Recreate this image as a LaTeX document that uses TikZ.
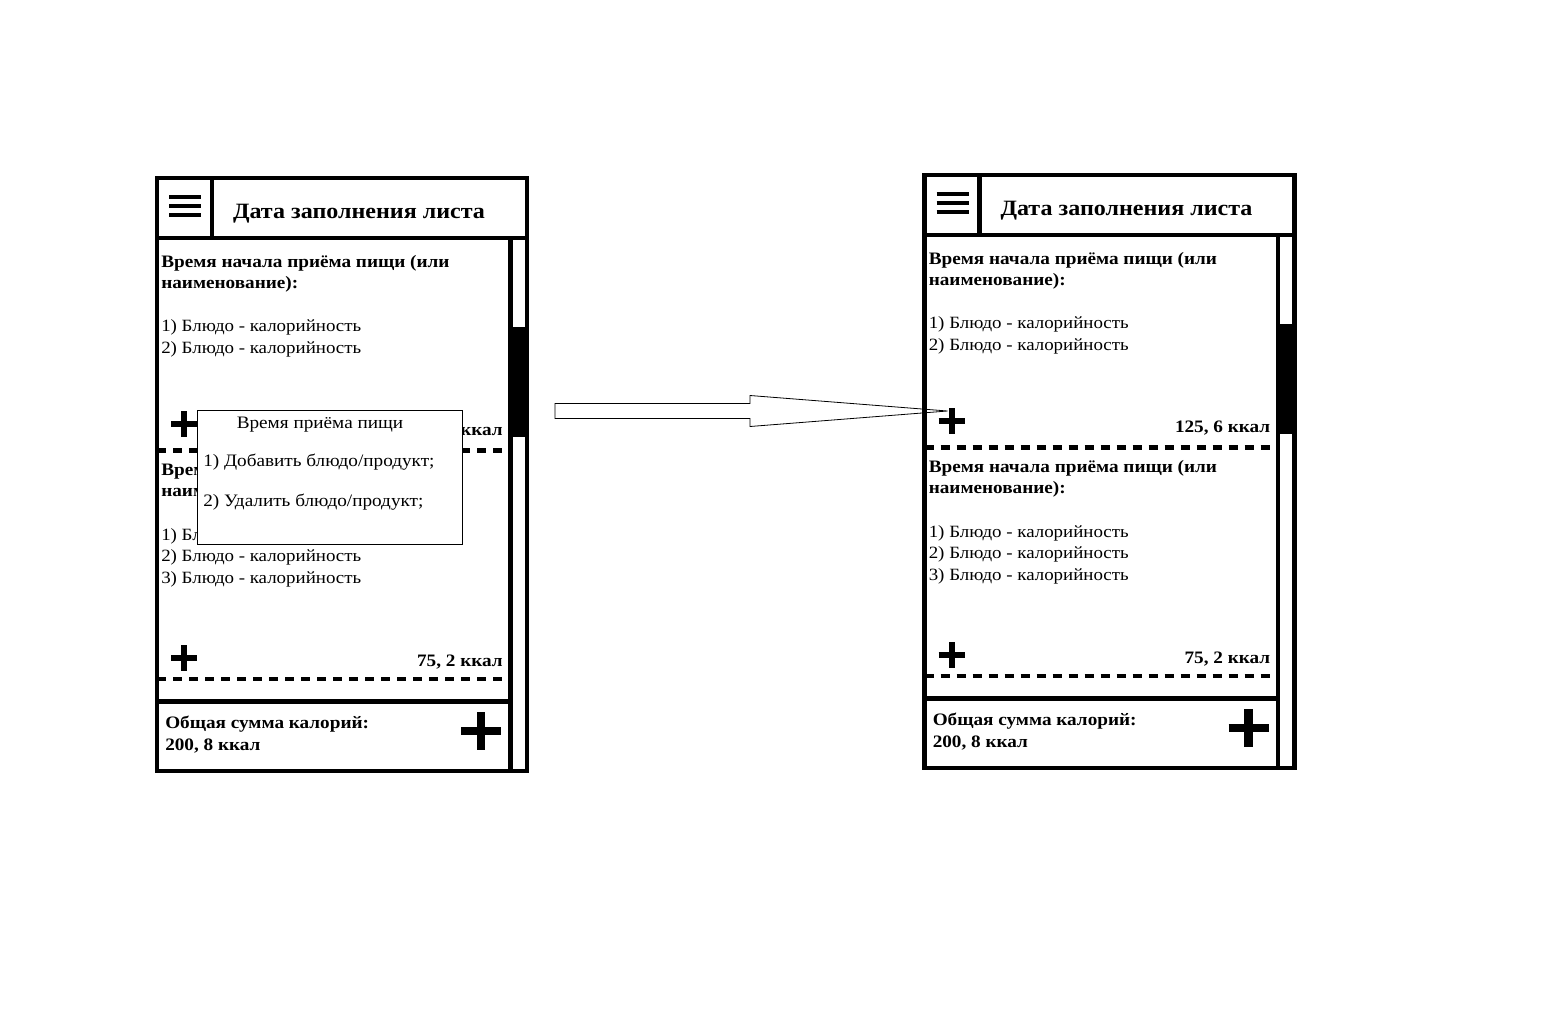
\documentclass[tikz,border=0pt]{standalone}
\usepackage{fontspec}
\setmainfont{Liberation Serif}[FakeStretch=1.1]
\usepackage{tikz}
\usetikzlibrary{calc}

\tikzset{
    frameLine/.style = {line width = 3.2pt, black},
    dashLine/.style = {line width = 3.6pt, black, dash pattern = on 7pt off 5pt},
    menuBar/.style = {line width = 3pt, black},
    plusSmall/.style = {line width = 4.5pt, black},
    plusBig/.style = {line width = 6.4pt, black},
    titleText/.style = {inner sep = 0pt, anchor = base, font = \fontsize{16.4}{20}\selectfont\bfseries},
    textBold/.style = {inner sep = 0pt, anchor = base west, font = \fontsize{13.1}{16}\selectfont\bfseries},
    textPlain/.style = {inner sep = 0pt, anchor = base west, font = \fontsize{12.9}{16}\selectfont},
    popupText/.style = {inner sep = 0pt, anchor = base west, font = \fontsize{13.1}{16}\selectfont},
}

\begin{document}
\begin{tikzpicture}[x = 0.75pt, y = -0.75pt]
    \useasboundingbox (0,0) rectangle (1562,1014);

    \foreach \dx/\dy/\p in {0/0/L, 767.5/-3/R}{
    \begin{scope}[shift = {(\dx,\dy)}]
        \draw[frameLine] (157,178) rectangle (527,771);
        \draw[frameLine] (157,238) -- (527,238);
        \draw[frameLine] (212,178) -- (212,238);
        \draw[frameLine] (510.5,238) -- (510.5,771);
        \fill[black] (510.5,327) rectangle (527,437);
        \draw[frameLine] (157,701.5) -- (510.5,701.5);
        \draw[dashLine] (157,450.5) -- (510.5,450.5);
        \draw[dashLine] (157,679) -- (510.5,679);

        \draw[menuBar] (169,197) -- (201,197);
        \draw[menuBar] (169,206) -- (201,206);
        \draw[menuBar] (169,215) -- (201,215);
        \node[titleText] (title\p) at (359,218) {Дата заполнения листа};

        \node[textBold] (headA\p) at (161,267) {Время начала приёма пищи (или};
        \node[textBold] (nameA\p) at (161,288.5) {наименование):};
        \node[textPlain] (dishA\p) at (161,331.5) {1) Блюдо - калорийность};
        \node[textPlain] (dishB\p) at (161,353) {2) Блюдо - калорийность};
        \coordinate (plusA\p) at (184,424);
        \draw[plusSmall] (plusA\p) +(-13,0) -- +(13,0) +(0,-13) -- +(0,13);
        \node[textBold, anchor = base east] (sumA\p) at (503,435) {125, 6 ккал};

        \node[textBold] (headB\p) at (161,475) {Время начала приёма пищи (или};
        \node[textBold] (nameB\p) at (161,496.5) {наименование):};
        \node[textPlain] (dishC\p) at (161,540) {1) Блюдо - калорийность};
        \node[textPlain] (dishD\p) at (161,561.5) {2) Блюдо - калорийность};
        \node[textPlain] (dishE\p) at (161,583) {3) Блюдо - калорийность};
        \coordinate (plusB\p) at (184,658);
        \draw[plusSmall] (plusB\p) +(-13,0) -- +(13,0) +(0,-13) -- +(0,13);
        \node[textBold, anchor = base east] (sumB\p) at (503,666.5) {75, 2 ккал};

        \node[textBold] (total\p) at (165,728.5) {Общая сумма калорий:};
        \node[textBold] (totalVal\p) at (165,750) {200, 8 ккал};
        \coordinate (plusC\p) at (481,731);
        \draw[plusBig] (plusC\p) +(-20,0) -- +(20,0) +(0,-19) -- +(0,19);
    \end{scope}
    }

    % popup over the left screen
    \node[draw, line width = 0.6pt, fill = white, anchor = north west, inner sep = 0pt,
          minimum width = 198.75pt, minimum height = 100.5pt] (popup) at (197,410) {};
    \node[popupText, anchor = base] (popupHead) at (320,428.5) {Время приёма пищи};
    \node[popupText] (popupAdd) at (203,466.5) {1) Добавить блюдо/продукт;};
    \node[popupText] (popupDel) at (203,506.5) {2) Удалить блюдо/продукт;};

    % arrow to the plus of the right screen
    \coordinate (arrowTail) at (555,411);
    \coordinate (arrowTip) at ($(plusAR)+(-4,-10)$);
    \draw[line width = 0.6pt] (arrowTail) ++(0,-7.5) -- ++(195,0) -- ++(0,-8)
        -- (arrowTip) -- ($(arrowTail)+(195,15.5)$) -- ++(0,-8)
        -- ($(arrowTail)+(0,7.5)$) -- cycle;
\end{tikzpicture}
\end{document}
